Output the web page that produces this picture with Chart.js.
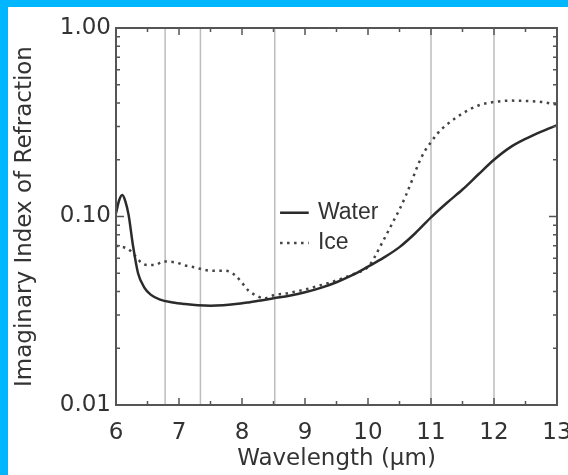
<!DOCTYPE html>
<html>
<head>
<meta charset="utf-8">
<script src="https://cdn.jsdelivr.net/npm/chart.js@4"></script>
<style>
  html, body { margin: 0; padding: 0; background: #00b6ff; }
  #wrap { position: absolute; left: 8px; top: 7px; width: 560px; height: 468px; background: #fff; }
</style>
</head>
<body>
<div id="wrap"><canvas id="chart" width="560" height="468"></canvas></div>
<script>
// wavelength in micrometres, k = imaginary index of refraction
const waterWavelength = [6.0, 6.05, 6.1, 6.15, 6.2, 6.27, 6.35, 6.45, 6.55, 6.7, 6.9, 7.1, 7.3, 7.5, 7.7, 7.9, 8.1, 8.3, 8.5, 8.75, 9.0, 9.25, 9.5, 9.75, 10.0, 10.25, 10.5, 10.75, 11.0, 11.25, 11.5, 11.75, 12.0, 12.25, 12.5, 12.75, 13.0];
const waterK = [0.104, 0.122, 0.130, 0.120, 0.102, 0.070, 0.050, 0.042, 0.0385, 0.0362, 0.0350, 0.0343, 0.0338, 0.0336, 0.0338, 0.0343, 0.0350, 0.0358, 0.0368, 0.0380, 0.0396, 0.0418, 0.0448, 0.0488, 0.0542, 0.0605, 0.0688, 0.0815, 0.099, 0.118, 0.139, 0.167, 0.200, 0.232, 0.258, 0.282, 0.305];

const iceWavelength = [6.0, 6.1, 6.2, 6.3, 6.4, 6.5, 6.62, 6.75, 6.95, 7.1, 7.25, 7.5, 7.7, 7.8, 7.9, 8.0, 8.1, 8.2, 8.35, 8.5, 8.75, 9.0, 9.25, 9.5, 9.75, 10.0, 10.1, 10.2, 10.3, 10.4, 10.5, 10.6, 10.7, 10.8, 10.9, 11.0, 11.1, 11.25, 11.5, 11.75, 12.0, 12.25, 12.5, 12.75, 13.0];
const iceK = [0.070, 0.069, 0.067, 0.062, 0.057, 0.0553, 0.0553, 0.0577, 0.0570, 0.055, 0.0537, 0.0516, 0.0516, 0.051, 0.0485, 0.0445, 0.0405, 0.0385, 0.0368, 0.0382, 0.0393, 0.0410, 0.0432, 0.0458, 0.0492, 0.0540, 0.0605, 0.070, 0.081, 0.094, 0.109, 0.129, 0.156, 0.19, 0.222, 0.248, 0.275, 0.307, 0.352, 0.388, 0.405, 0.412, 0.41, 0.405, 0.393];

const markerWavelengths = [6.78, 7.34, 8.52, 11.0, 12.0];
const xTickStep = 1;
const yTicks = [0.01, 0.1, 1];

const pairs = (xs, ys) => xs.map((x, i) => ({ x: x, y: ys[i] }));

Chart.defaults.font.family = "'DejaVu Sans', sans-serif";
Chart.defaults.color = "#333";

// frame, inward ticks, marker lines and in-plot legend
const decor = {
  id: "decor",
  beforeDatasetsDraw(chart) {
    const { ctx, chartArea: a, scales: { x } } = chart;
    ctx.save();
    ctx.strokeStyle = "#bdbdbd";
    ctx.lineWidth = 1.5;
    markerWavelengths.forEach(w => {
      const px = x.getPixelForValue(w);
      ctx.beginPath();
      ctx.moveTo(px, a.top);
      ctx.lineTo(px, a.bottom);
      ctx.stroke();
    });
    ctx.restore();
  },
  afterDatasetsDraw(chart) {
    const { ctx, chartArea: a, scales: { x, y } } = chart;
    ctx.save();
    ctx.strokeStyle = "#555";
    ctx.lineWidth = 1.5;
    ctx.beginPath();
    for (let w = x.min; w <= x.max + 1e-9; w += 0.5) {
      const px = x.getPixelForValue(w);
      const len = Math.abs(w - Math.round(w)) < 1e-6 ? 7 : 4;
      ctx.moveTo(px, a.bottom); ctx.lineTo(px, a.bottom - len);
      ctx.moveTo(px, a.top); ctx.lineTo(px, a.top + len);
    }
    for (let d = 0; d < yTicks.length - 1; d++) {
      for (let k = 1; k <= 9; k++) {
        const py = y.getPixelForValue(yTicks[d] * k);
        const len = k === 1 ? 8 : 4;
        ctx.moveTo(a.left, py); ctx.lineTo(a.left + len, py);
        ctx.moveTo(a.right, py); ctx.lineTo(a.right - len, py);
      }
    }
    ctx.stroke();
    ctx.lineWidth = 2;
    ctx.strokeRect(a.left, a.top, a.right - a.left, a.bottom - a.top);
    ctx.restore();
  },
  afterDraw(chart) {
    const { ctx, chartArea: a } = chart;
    const w = a.right - a.left, h = a.bottom - a.top;
    ctx.save();
    ctx.font = "23px 'Liberation Sans', Arial, sans-serif";
    ctx.textBaseline = "middle";
    ctx.fillStyle = "#333";
    chart.data.datasets.forEach((ds, i) => {
      const py = a.top + h * (0.49 + i * 0.08);
      ctx.strokeStyle = ds.borderColor;
      ctx.lineWidth = ds.borderWidth;
      ctx.setLineDash(ds.borderDash || []);
      ctx.beginPath();
      ctx.moveTo(a.left + w * 0.372, py);
      ctx.lineTo(a.left + w * 0.437, py);
      ctx.stroke();
      ctx.fillText(ds.label, a.left + w * 0.458, py);
    });
    ctx.restore();
  }
};

new Chart(document.getElementById("chart"), {
  type: "line",
  data: {
    datasets: [
      {
        label: "Water",
        data: pairs(waterWavelength, waterK),
        borderColor: "#2b2b2b",
        borderWidth: 2.5,
        pointRadius: 0,
        cubicInterpolationMode: "monotone"
      },
      {
        label: "Ice",
        data: pairs(iceWavelength, iceK),
        borderColor: "#444",
        borderWidth: 2.5,
        borderDash: [2.5, 4.5],
        pointRadius: 0,
        cubicInterpolationMode: "monotone"
      }
    ]
  },
  options: {
    responsive: false,
    animation: false,
    layout: { padding: { top: 21, right: 11, left: 0, bottom: 0 } },
    plugins: { legend: { display: false }, tooltip: { enabled: false } },
    scales: {
      x: {
        type: "linear",
        min: 6,
        max: 13,
        grid: { display: false, drawTicks: false },
        border: { display: false },
        ticks: { stepSize: xTickStep, padding: 14, font: { size: 23 } },
        title: { display: true, text: "Wavelength (µm)", font: { size: 23 }, padding: { top: 0, bottom: 2 } },
        afterFit: s => { s.height = 70; s.paddingLeft = 0; s.paddingRight = 0; }
      },
      y: {
        type: "logarithmic",
        min: 0.01,
        max: 1,
        grid: { display: false, drawTicks: false },
        border: { display: false },
        afterBuildTicks: s => { s.ticks = yTicks.map(v => ({ value: v })); },
        ticks: { padding: 5, font: { size: 23 }, callback: v => Number(v).toFixed(2) },
        title: { display: true, text: "Imaginary Index of Refraction", font: { size: 23 }, padding: { top: 3, bottom: 0 } },
        afterFit: s => { s.width = 108; s.paddingTop = 0; s.paddingBottom = 0; }
      }
    }
  },
  plugins: [decor]
});
</script>
</body>
</html>
